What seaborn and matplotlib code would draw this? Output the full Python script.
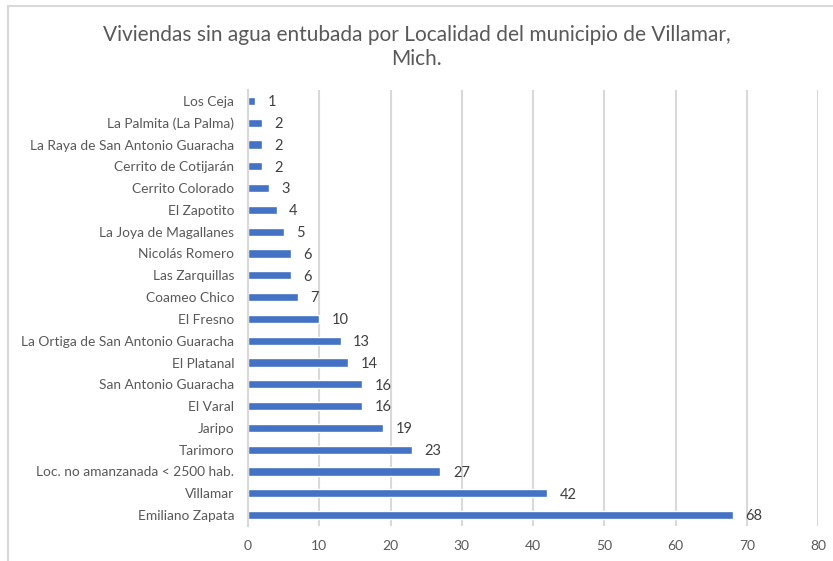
import matplotlib
matplotlib.use("Agg")
import matplotlib.pyplot as plt
import seaborn as sns
import pandas as pd
from matplotlib.patches import Rectangle

localidades = [
    "Los Ceja", "La Palmita (La Palma)", "La Raya de San Antonio Guaracha",
    "Cerrito de Cotijarán", "Cerrito Colorado", "El Zapotito",
    "La Joya de Magallanes", "Nicolás Romero", "Las Zarquillas",
    "Coameo Chico", "El Fresno", "La Ortiga de San Antonio Guaracha",
    "El Platanal", "San Antonio Guaracha", "El Varal", "Jaripo",
    "Tarimoro", "Loc. no amanzanada < 2500 hab.", "Villamar", "Emiliano Zapata",
]
viviendas = [1, 2, 2, 2, 3, 4, 5, 6, 6, 7, 10, 13, 14, 16, 16, 19, 23, 27, 42, 68]
x_ticks = [0, 10, 20, 30, 40, 50, 60, 70, 80]
titulo = "Viviendas sin agua entubada por Localidad del municipio de Villamar,\nMich."

df = pd.DataFrame({"localidad": localidades, "viviendas": viviendas})

sns.set_theme(style="white")
plt.rcParams["font.family"] = ["Lato", "DejaVu Sans"]

fig = plt.figure(figsize=(8.33, 5.61), dpi=100)
fig.patch.set_facecolor("white")
fig.patches.append(Rectangle((8 / 833, -0.1), 1.2, 1 - 6 / 561 + 0.1,
                             transform=fig.transFigure, fill=False,
                             edgecolor="#D9D9D9", linewidth=1.5))

ax = fig.add_axes([248 / 833, 1 - 526 / 561, (818 - 248) / 833, (526 - 90) / 561])
sns.barplot(data=df, x="viviendas", y="localidad", orient="h", color="#4472C4",
            width=0.37, saturation=1, ax=ax)

ax.set_xlim(0, 80)
ax.set_ylim(19.5, -0.5)
ax.set_xticks(x_ticks)
ax.set_xticklabels([str(t) for t in x_ticks], color="#595959", fontsize=10)
ax.tick_params(axis="y", labelsize=9.9, labelcolor="#595959", length=0, pad=10)
ax.tick_params(axis="x", length=0, pad=10)
ax.set_xlabel("")
ax.set_ylabel("")
ax.grid(axis="x", color="#D9D9D9", linewidth=1.5)
ax.set_axisbelow(True)
for s in ["top", "right", "bottom"]:
    ax.spines[s].set_visible(False)
ax.spines["left"].set_color("#D9D9D9")
ax.spines["left"].set_linewidth(1.5)

for i, v in enumerate(viviendas):
    ax.annotate(str(v), xy=(v, i), xytext=(9, -1), textcoords="offset points",
                ha="left", va="center", fontsize=10.5, color="#404040")

fig.text(0.5, 1 - 47 / 561, titulo, ha="center", va="center", fontsize=15,
         color="#595959", linespacing=1.3)

fig.savefig("out.png", dpi=100)
